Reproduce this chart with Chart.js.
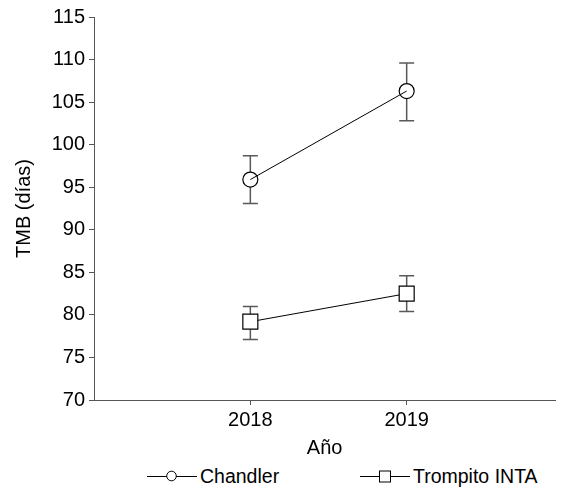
<!DOCTYPE html>
<html>
<head>
<meta charset="utf-8">
<script src="https://cdn.jsdelivr.net/npm/chart.js@4"></script>
<style>
  html, body { margin: 0; background: #fff; overflow: hidden; font-family: 'Liberation Sans', Arial, sans-serif; }
  #wrap { width: 567px; height: 490px; }
  canvas { display: block; }
  #legend { position: relative; height: 30px; font-size: 19.5px; color: #000; }
  .item { position: absolute; top: 4px; height: 24px; display: flex; align-items: center; white-space: nowrap; }
  .item svg { margin-right: 3px; }
</style>
</head>
<body>
<div id="wrap">
  <canvas id="chart" width="567" height="460"></canvas>
  <div id="legend"></div>
</div>
<script>
const years = [2018, 2019];
const seriesNames = ['Chandler', 'Trompito INTA'];
const chandler = [95.9, 106.3];
const chandlerLow = [93.1, 102.8];
const chandlerHigh = [98.7, 109.6];
const trompito = [79.2, 82.5];
const trompitoLow = [77.1, 80.4];
const trompitoHigh = [81.0, 84.6];
const yTicks = [70, 75, 80, 85, 90, 95, 100, 105, 110, 115];

const font = { family: "'Liberation Sans', Arial, sans-serif", size: 20 };
const axisColor = '#555';

const errors = [
  { low: chandlerLow, high: chandlerHigh, r: 7.5 },
  { low: trompitoLow, high: trompitoHigh, r: 7.5 }
];

// error bars, split around the marker so the bar does not cross it
const errorBars = {
  id: 'errorBars',
  beforeDatasetsDraw(chart) {
    const ctx = chart.ctx;
    const y = chart.scales.y;
    ctx.save();
    ctx.strokeStyle = '#595959';
    ctx.lineWidth = 1.5;
    chart.data.datasets.forEach((ds, di) => {
      const meta = chart.getDatasetMeta(di);
      const err = errors[di];
      meta.data.forEach((pt, i) => {
        const top = y.getPixelForValue(err.high[i]);
        const bot = y.getPixelForValue(err.low[i]);
        const cap = 7.5;
        ctx.beginPath();
        ctx.moveTo(pt.x, top);
        ctx.lineTo(pt.x, pt.y - err.r);
        ctx.moveTo(pt.x, pt.y + err.r);
        ctx.lineTo(pt.x, bot);
        ctx.moveTo(pt.x - cap, top);
        ctx.lineTo(pt.x + cap, top);
        ctx.moveTo(pt.x - cap, bot);
        ctx.lineTo(pt.x + cap, bot);
        ctx.stroke();
      });
    });
    ctx.restore();
  }
};

function toPoints(values) {
  return years.map((yr, i) => ({ x: yr, y: values[i] }));
}

const chart = new Chart(document.getElementById('chart'), {
  type: 'line',
  data: {
    datasets: [
      {
        label: seriesNames[0],
        data: toPoints(chandler),
        borderColor: '#000',
        borderWidth: 1,
        backgroundColor: 'rgba(0,0,0,0)',
        pointStyle: 'circle',
        pointRadius: 7.5,
        pointBorderWidth: 1.2,
        pointBorderColor: '#000',
        pointBackgroundColor: 'rgba(0,0,0,0)'
      },
      {
        label: seriesNames[1],
        data: toPoints(trompito),
        borderColor: '#000',
        borderWidth: 1,
        backgroundColor: '#fff',
        pointStyle: 'rect',
        pointRadius: 10.6,
        pointBorderWidth: 1.2,
        pointBorderColor: '#000',
        pointBackgroundColor: '#fff'
      }
    ]
  },
  options: {
    responsive: false,
    animation: false,
    layout: { padding: { top: 17, right: 0, left: 0, bottom: 0 } },
    plugins: {
      legend: { display: false },
      tooltip: { enabled: false }
    },
    scales: {
      x: {
        type: 'linear',
        min: 2017,
        max: 2019.95,
        afterBuildTicks: scale => { scale.ticks = years.map(v => ({ value: v })); },
        afterFit: scale => { scale.height = 60; },
        ticks: { color: '#000', font: font, padding: 3, callback: v => String(v) },
        grid: { drawOnChartArea: false, tickLength: 5, color: axisColor },
        border: { color: axisColor },
        title: { display: true, text: 'Año', color: '#000', font: font, padding: { top: 0, bottom: 0 } }
      },
      y: {
        min: 70,
        max: 115,
        afterBuildTicks: scale => { scale.ticks = yTicks.map(v => ({ value: v })); },
        afterFit: scale => { scale.width = 94; },
        ticks: { color: '#000', font: font, padding: 4 },
        grid: { drawOnChartArea: false, tickLength: 5, color: axisColor },
        border: { color: axisColor },
        title: { display: true, text: 'TMB (días)', color: '#000', font: font, padding: { top: 12, bottom: 0 } }
      }
    }
  },
  plugins: [errorBars]
});

// legend in HTML, line - marker - line like the original
const legendLeft = [147, 360];
const legend = document.getElementById('legend');
chart.data.datasets.forEach((ds, i) => {
  const item = document.createElement('div');
  item.className = 'item';
  item.style.left = legendLeft[i] + 'px';
  const marker = ds.pointStyle === 'circle'
    ? '<circle cx="24.5" cy="12" r="4.8" fill="#fff" stroke="#000" stroke-width="1"/>'
    : '<rect x="19.5" y="7" width="11" height="11" fill="#fff" stroke="#000" stroke-width="1"/>';
  item.innerHTML = `
    <svg width="50" height="24"><line x1="0" y1="12.5" x2="50" y2="12.5" stroke="#000" stroke-width="1"/>${marker}</svg>
    <span>${ds.label}</span>
  `;
  legend.appendChild(item);
});
</script>
</body>
</html>
